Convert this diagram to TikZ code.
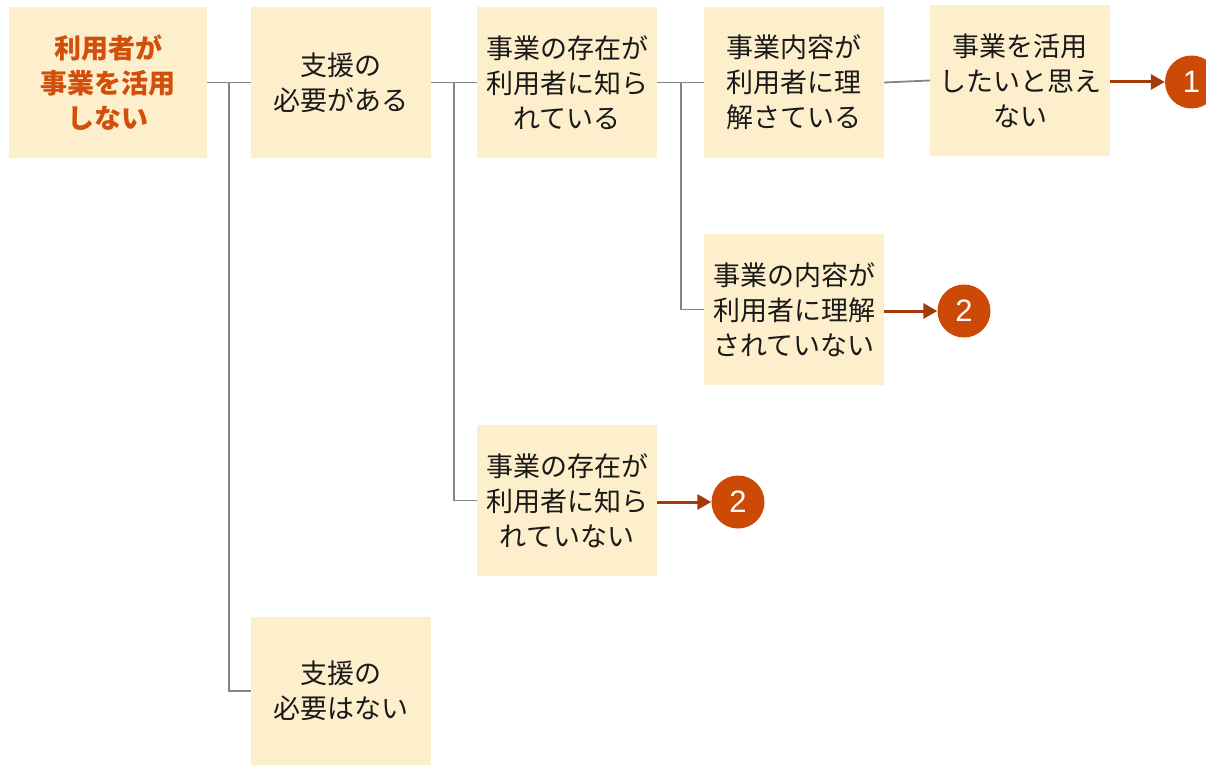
\documentclass[tikz,border=0pt]{standalone}
\usepackage{fontspec}
\setmainfont{Noto Sans CJK JP}
\newfontfamily\numfont{Liberation Sans}
\usetikzlibrary{arrows.meta}
\definecolor{boxfill}{HTML}{FDEFCB}
\definecolor{titlecol}{HTML}{D24E0B}
\definecolor{circfill}{HTML}{CC4A05}
\definecolor{arrowcol}{HTML}{A33A0A}
\definecolor{linecol}{HTML}{858585}
\tikzset{
  box/.style={fill=boxfill, inner sep=0pt, align=center,
    font=\fontsize{27}{35}\selectfont, text=black!90},
  stdbox/.style={box, minimum width=180pt, minimum height=151pt},
  numcirc/.style={circle, fill=circfill, inner sep=0pt, minimum size=53pt,
    text=white, font=\numfont\fontsize{31}{31}\selectfont},
  conn/.style={draw=linecol, line width=1.8pt},
  outarrow/.style={draw=arrowcol, line width=3pt, -{Triangle[length=14pt,width=15pt]}}
}
\begin{document}
\begin{tikzpicture}[x=1pt,y=-1pt]
\useasboundingbox (0,0) rectangle (1206,765);
\node[box, minimum width=198pt, minimum height=151pt, text=titlecol, font=\bfseries\fontsize{27}{35}\selectfont] (A) at (108,82.5) {利用者が\\事業を活用\\しない};
\node[stdbox] (B) at (341,82.5) {支援の\\必要がある};
\node[stdbox] (C) at (567,82.5) {事業の存在が\\利用者に知ら\\れている};
\node[stdbox] (D) at (794,82.5) {事業内容が\\利用者に理\\解さている};
\node[stdbox] (E) at (1020,80.5) {事業を活用\\したいと思え\\ない};
\node[stdbox] (F) at (794,309.5) {事業の内容が\\利用者に理解\\されていない};
\node[stdbox] (G) at (567,500.5) {事業の存在が\\利用者に知ら\\れていない};
\node[box, minimum width=180pt, minimum height=148pt] (H) at (341,691) {支援の\\必要はない};
\node[numcirc] (N1) at (1191.5,82) {1};
\node[numcirc] (N2) at (964,311) {2};
\node[numcirc] (N3) at (738,502) {2};
\coordinate (j1) at (229,82.5);
\coordinate (j2) at (454,82.5);
\coordinate (j3) at (681,82.5);
\draw[conn] (A.east) -- (B.west);
\draw[conn] (j1) |- (H.west);
\draw[conn] (B.east) -- (C.west);
\draw[conn] (j2) |- (G.west);
\draw[conn] (C.east) -- (D.west);
\draw[conn] (j3) |- (F.west);
\draw[conn] (D.east) -- (E.west);
\draw[outarrow] (E.east |- N1.west) -- (N1.west);
\draw[outarrow] (F.east |- N2.west) -- (N2.west);
\draw[outarrow] (G.east |- N3.west) -- (N3.west);
\end{tikzpicture}
\end{document}
